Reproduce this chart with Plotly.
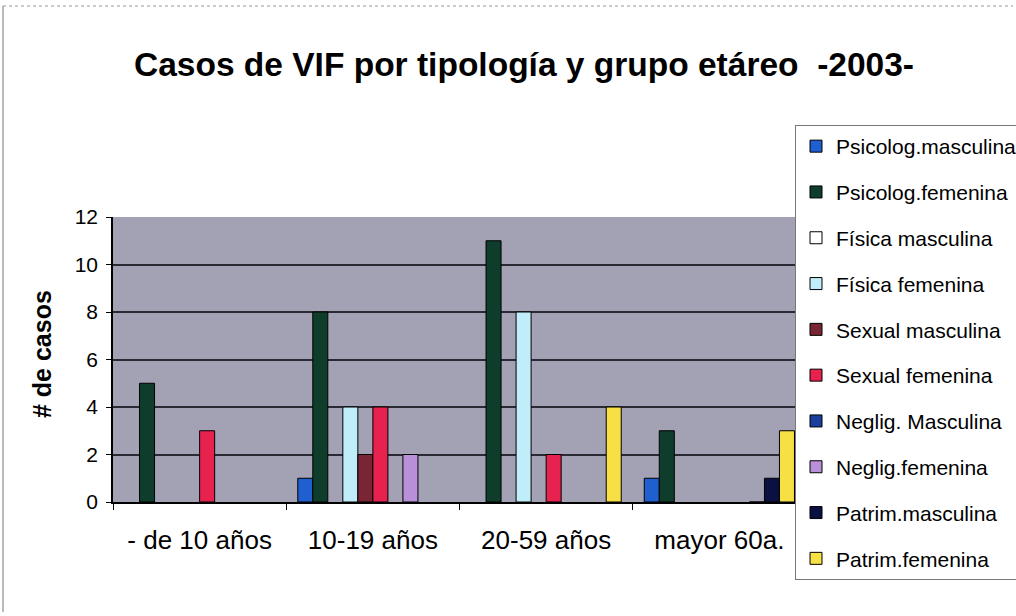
import plotly.graph_objects as go

categories = ["- de 10 años", "10-19 años", "20-59 años", "mayor 60a."]

series_names = [
    "Psicolog.masculina", "Psicolog.femenina", "Física masculina", "Física femenina",
    "Sexual masculina", "Sexual femenina", "Neglig. Masculina", "Neglig.femenina",
    "Patrim.masculina", "Patrim.femenina",
]

psicolog_masculina = [None, 1, None, 1]
psicolog_femenina = [5, 8, 11, 3]
fisica_masculina = [None, None, None, None]
fisica_femenina = [None, 4, 8, None]
sexual_masculina = [None, 2, None, None]
sexual_femenina = [3, 4, 2, None]
neglig_masculina = [None, None, None, None]
neglig_femenina = [None, 2, None, 0]
patrim_masculina = [None, None, None, 1]
patrim_femenina = [None, None, 4, 3]

series_values = [
    psicolog_masculina, psicolog_femenina, fisica_masculina, fisica_femenina,
    sexual_masculina, sexual_femenina, neglig_masculina, neglig_femenina,
    patrim_masculina, patrim_femenina,
]

colors = [
    "#1f5fd0", "#0f3d2b", "#ffffff", "#bfeefa", "#7a2535",
    "#e8224f", "#1b3f9c", "#b890da", "#0b1042", "#f6e044",
]

y_ticks = [0, 2, 4, 6, 8, 10, 12]

FONT = "Liberation Sans, Arial, sans-serif"

# pixel geometry of the plot area
L, R, T, B = 113, 806, 217, 502
W, H = 1016, 616

def px_x(p):
    return (p - L) / (R - L)

def px_y(p):
    return (B - p) / (B - T)

fig = go.Figure()
for name, vals, col in zip(series_names, series_values, colors):
    fig.add_trace(go.Bar(
        x=categories, y=vals, name=name,
        marker=dict(color=col, line=dict(color="#000000", width=1)),
        legendgroup=name,
    ))

fig.update_layout(
    width=W, height=H, autosize=False,
    margin=dict(l=L, r=W - R, t=T, b=H - B, autoexpand=False),
    paper_bgcolor="#ffffff",
    plot_bgcolor="#a3a1b4",
    barmode="group",
    bargap=0.133,
    bargroupgap=0,
    font=dict(family=FONT, color="#000000"),
    title=dict(
        text="<b>Casos de VIF por tipología y grupo etáreo  -2003-</b>",
        x=524 / W, xref="container", xanchor="center",
        y=1 - 64 / H, yref="container", yanchor="middle",
        font=dict(family=FONT, size=33.5, color="#000000"),
    ),
    xaxis=dict(
        type="category",
        tickson="boundaries",
        ticks="outside", ticklen=6, tickcolor="#000000",
        showline=True, linecolor="#000000", linewidth=1.5,
        showgrid=False,
        tickfont=dict(family=FONT, size=26, color="#000000"),
        ticklabelstandoff=14,
    ),
    yaxis=dict(
        range=[0, 12],
        tickvals=y_ticks,
        ticks="outside", ticklen=5, tickcolor="#000000",
        showline=True, linecolor="#000000", linewidth=1.5,
        showgrid=True, gridcolor="#2a2a35", gridwidth=1.5,
        zeroline=False,
        tickfont=dict(family=FONT, size=21, color="#000000"),
        ticklabelstandoff=4,
    ),
    legend=dict(
        x=px_x(795), y=px_y(125), xanchor="left", yanchor="top",
        bgcolor="#ffffff", bordercolor="#777777", borderwidth=1,
        font=dict(family=FONT, size=21, color="#000000"),
        traceorder="grouped", tracegroupgap=15.5,
        maxheight=1000,
    ),
    showlegend=True,
    annotations=[
        dict(
            text="<b># de casos</b>", textangle=-90,
            x=px_x(42), y=px_y(354), xref="paper", yref="paper",
            xanchor="center", yanchor="middle", showarrow=False,
            font=dict(family=FONT, size=25, color="#000000"),
        )
    ],
    shapes=[
        dict(type="line", xref="paper", yref="paper",
             x0=px_x(3), x1=px_x(3), y0=px_y(6), y1=px_y(612),
             line=dict(color="#777777", width=1)),
        dict(type="line", xref="paper", yref="paper",
             x0=px_x(3), x1=px_x(1013), y0=px_y(6), y1=px_y(6),
             line=dict(color="#999999", width=1, dash="dot")),
    ],
)

fig.write_html(
    "out.html",
    config={"displayModeBar": False},
    post_script="document.body.style.margin='0';",
)
